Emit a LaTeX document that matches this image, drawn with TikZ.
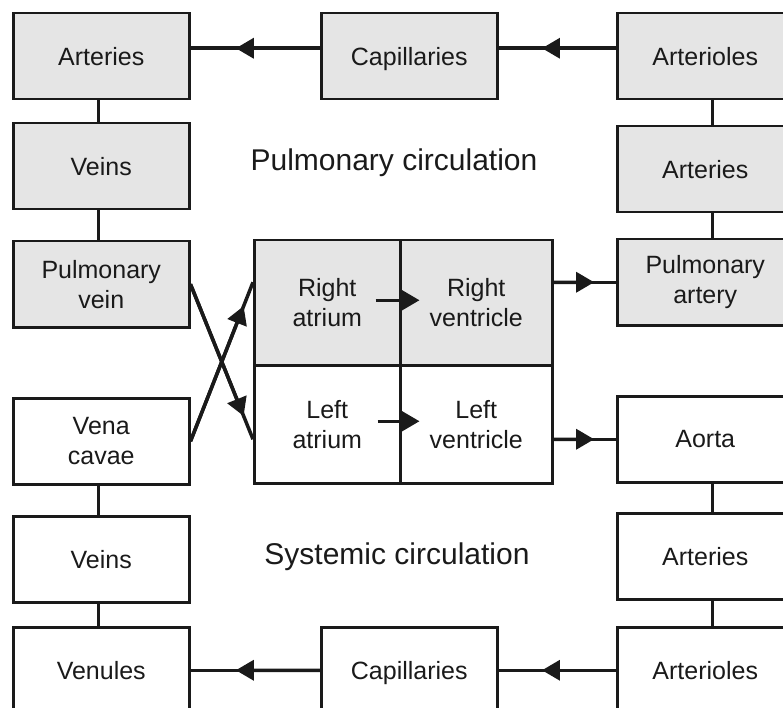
\documentclass[tikz,border=0pt]{standalone}
\usepackage{fontspec}
\setmainfont{Liberation Sans}
\usetikzlibrary{arrows.meta,calc}
\definecolor{boxgray}{HTML}{E5E5E5}
\definecolor{ink}{HTML}{1A1A1A}
\begin{document}
\begin{tikzpicture}[x=1pt,y=-1pt,
  box/.style={draw=ink,line width=2.5pt,minimum width=176pt,minimum height=86pt,inner sep=0pt,anchor=north west,align=center,font=\fontsize{25}{30}\selectfont,text=ink},
  lung/.style={box,fill=boxgray},
  cell/.style={draw=ink,line width=2.5pt,inner sep=0pt,anchor=north west,align=center,font=\fontsize{25}{30}\selectfont,text=ink},
  conn/.style={draw=ink,line width=3.5pt},
  tip/.style={-{Triangle[length=18pt,width=20pt]}},
  title/.style={font=\fontsize{30}{36}\selectfont,text=ink}
  ]
\useasboundingbox (0,0) rectangle (783,708);
\clip (0,0) rectangle (783,708);
% left column
\node[lung] (lA) at (12,12) {Arteries};
\node[lung] (lV) at (12,122) {Veins};
\node[lung] (pv) at (12,240) {Pulmonary\\vein};
\node[box] (vc) at (12,397) {Vena\\cavae};
\node[box] (lV2) at (12,515) {Veins};
\node[box] (ven) at (12,626) {Venules};
% middle
\node[lung,text depth=0pt] (capT) at (320,12) {Capillaries};
\node[box,text depth=0pt] (capB) at (320,626) {Capillaries};
% right column
\node[lung] (rAo) at (616,12) {Arterioles};
\node[lung] (rA) at (616,125) {Arteries};
\node[lung] (pa) at (616,238) {Pulmonary\\artery};
\node[box] (ao) at (616,395) {Aorta};
\node[box] (rA2) at (616,512) {Arteries};
\node[box] (rAo2) at (616,626) {Arterioles};
% heart
\node[cell,fill=boxgray,minimum width=146pt,minimum height=125pt] (ra) at (253,239) {Right\\atrium};
\node[cell,fill=boxgray,minimum width=152pt,minimum height=125pt] (rv) at (399,239) {Right\\ventricle};
\node[cell,minimum width=146pt,minimum height=118pt] (la) at (253,364) {Left\\atrium};
\node[cell,minimum width=152pt,minimum height=118pt] (lv) at (399,364) {Left\\ventricle};
% titles
\node[title] (pc) at (394,163) {Pulmonary circulation};
\node[title] (sc) at (397,557) {Systemic circulation};
% horizontal arrows top (slightly above centre)
\coordinate (t1) at ([yshift=8pt]capT.west);
\coordinate (t2) at ([yshift=8pt]lA.east);
\coordinate (t3) at ([yshift=8pt]rAo.west);
\coordinate (t4) at ([yshift=8pt]capT.east);
\draw[conn] (t1) -- (t2);
\draw[conn,tip] (t1) -- ($(t1)!0.65!(t2)$);
\draw[conn] (t3) -- (t4);
\draw[conn,tip] (t3) -- ($(t3)!0.63!(t4)$);
% horizontal arrows bottom
\draw[conn] (capB.west) -- (ven.east);
\draw[conn,tip] (capB.west) -- ($(capB.west)!0.65!(ven.east)$);
\draw[conn] (rAo2.west) -- (capB.east);
\draw[conn,tip] (rAo2.west) -- ($(rAo2.west)!0.63!(capB.east)$);
% vertical connectors left
\draw[conn] ([xshift=-3pt]lA.south) -- ([xshift=-3pt]lV.north);
\draw[conn] ([xshift=-3pt]lV.south) -- ([xshift=-3pt]pv.north);
\draw[conn] ([xshift=-3pt]vc.south) -- ([xshift=-3pt]lV2.north);
\draw[conn] ([xshift=-3pt]lV2.south) -- ([xshift=-3pt]ven.north);
% vertical connectors right
\draw[conn] ([xshift=7pt]rAo.south) -- ([xshift=7pt]rA.north);
\draw[conn] ([xshift=7pt]rA.south) -- ([xshift=7pt]pa.north);
\draw[conn] ([xshift=7pt]ao.south) -- ([xshift=7pt]rA2.north);
\draw[conn] ([xshift=7pt]rA2.south) -- ([xshift=7pt]rAo2.north);
% heart outputs
\coordinate (rvOut) at (rv.east |- pa.west);
\coordinate (lvOut) at (lv.east |- ao.west);
\draw[conn] (rvOut) -- (pa.west);
\draw[conn,tip] (rvOut) -- ($(rvOut)!0.65!(pa.west)$);
\draw[conn] (lvOut) -- (ao.west);
\draw[conn,tip] (lvOut) -- ($(lvOut)!0.65!(ao.west)$);
% heart inputs (crossing)
\coordinate (raIn) at (ra.west |- pa.west);
\coordinate (laIn) at (la.west |- ao.west);
\draw[conn] (pv.east) -- (laIn);
\draw[conn,tip] (pv.east) -- ($(pv.east)!0.85!(laIn)$);
\draw[conn] (vc.east) -- (raIn);
\draw[conn,tip] (vc.east) -- ($(vc.east)!0.85!(raIn)$);
% inner heart arrows
\coordinate (a1) at ([xshift=-26pt,yshift=2.5pt]ra.east);
\coordinate (a2) at ([xshift=18pt,yshift=2.5pt]ra.east);
\draw[conn,tip] (a1) -- (a2);
\coordinate (b1) at ([xshift=-24pt,yshift=3pt]la.east);
\coordinate (b2) at ([xshift=18pt,yshift=3pt]la.east);
\draw[conn,tip] (b1) -- (b2);
\end{tikzpicture}
\end{document}
